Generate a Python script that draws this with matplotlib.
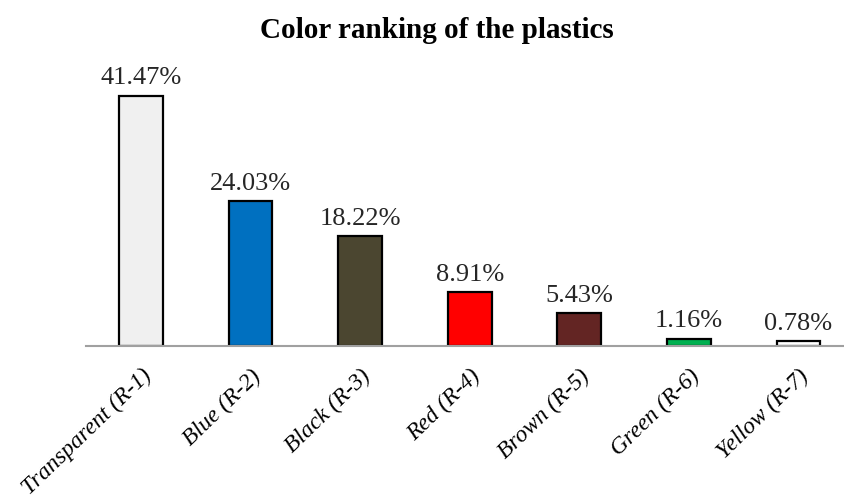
import matplotlib.pyplot as plt

# plastic colour shares (%)
categories = ['Transparent (R-1)', 'Blue (R-2)', 'Black (R-3)', 'Red (R-4)',
              'Brown (R-5)', 'Green (R-6)', 'Yellow (R-7)']
shares = [41.47, 24.03, 18.22, 8.91, 5.43, 1.16, 0.78]
bar_colors = ['#F0F0F0', '#0070C0', '#4B4630', '#FF0000',
              '#632523', '#00B050', '#FFFFFF']

plt.rcParams['font.family'] = ['Liberation Serif', 'DejaVu Serif']

fig = plt.figure(figsize=(8.44, 4.99), dpi=100)
ax = fig.add_axes([0.102, 0.3066, 0.909, 0.604])

x = range(len(categories))
bars = ax.bar(x, shares, width=0.4, color=bar_colors,
              edgecolor='black', linewidth=1.6, zorder=3)

for b, v in zip(bars, shares):
    ax.text(b.get_x() + b.get_width() / 2, v + 1.1, '%.2f%%' % v,
            ha='center', va='bottom', fontsize=19, color='#262626')

ax.set_xlim(-0.5, 6.5)
ax.set_ylim(0, 50)
ax.set_xticks(list(x))
ax.set_xticklabels(categories, rotation=44, ha='right', va='top',
                   rotation_mode='anchor', fontsize=17, style='italic')
ax.tick_params(axis='x', length=0, pad=14)
ax.set_yticks([])

for side in ['top', 'right', 'left']:
    ax.spines[side].set_visible(False)
ax.spines['bottom'].set_color('#A0A0A0')
ax.spines['bottom'].set_linewidth(1.5)
ax.spines['bottom'].set_zorder(4)

fig.text(437 / 844, 1 - 31 / 499, 'Color ranking of the plastics',
         ha='center', va='center', fontsize=21, fontweight='bold')

fig.savefig('out.png', dpi=100)
